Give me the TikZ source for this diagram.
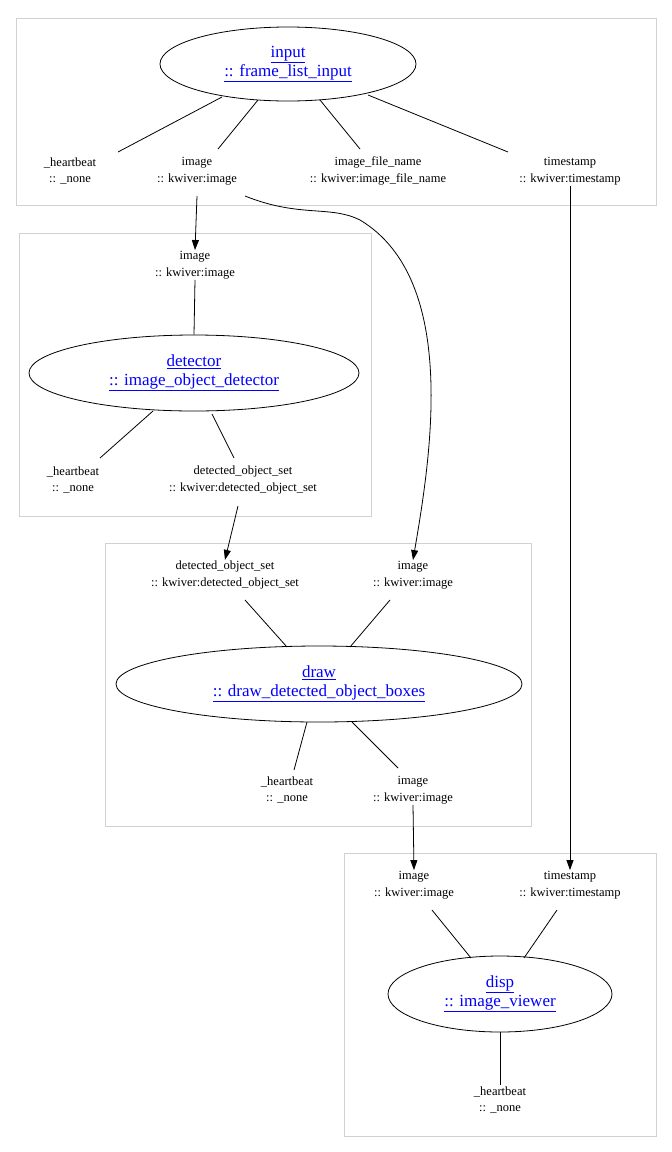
\documentclass[tikz,border=0pt]{standalone}
\usepackage{fontspec}
\setmainfont{Liberation Serif}
\usetikzlibrary{shapes.geometric,arrows.meta}
\begin{document}
\begin{tikzpicture}[x=1pt,y=-1pt,
  clus/.style={draw=black!18,line width=0.8pt},
  proc/.style={ellipse,draw,line width=0.8pt,inner sep=0pt,font=\fontsize{17}{19}\selectfont,text=blue,align=center},
  port/.style={align=center,font=\fontsize{12.5}{16.5}\selectfont,inner sep=1pt},
  ln/.style={line width=0.8pt},
  arr/.style={line width=0.8pt,-{Triangle[length=10pt,width=7pt]}}]
\useasboundingbox (0,0) rectangle (672,1152);
\draw[clus] (16,18) rectangle (656,205);
\draw[clus] (19,233) rectangle (371,516);
\draw[clus] (105,543) rectangle (531,826);
\draw[clus] (344,853) rectangle (656,1136);

\node[proc,minimum width=256,minimum height=74] (input) at (288,64) {\underline{input}\\\underline{:: frame\_list\_input}};
\node[proc,minimum width=330,minimum height=76] (det) at (194,373) {\underline{detector}\\\underline{:: image\_object\_detector}};
\node[proc,minimum width=406,minimum height=76] (draw) at (319,684) {\underline{draw}\\\underline{:: draw\_detected\_object\_boxes}};
\node[proc,minimum width=224,minimum height=76] (disp) at (500,994) {\underline{disp}\\\underline{:: image\_viewer}};

\node[port] (ihb) at (70,171) {\_heartbeat\\:: \_none};
\node[port] (iim) at (197,171) {image\\:: kwiver:image};
\node[port] (ifn) at (378,171) {image\_file\_name\\:: kwiver:image\_file\_name};
\node[port] (its) at (570,171) {timestamp\\:: kwiver:timestamp};

\node[port] (dim) at (195,265) {image\\:: kwiver:image};
\node[port] (dhb) at (73,480) {\_heartbeat\\:: \_none};
\node[port] (ddos) at (243,480) {detected\_object\_set\\:: kwiver:detected\_object\_set};

\node[port] (wdos) at (225,575) {detected\_object\_set\\:: kwiver:detected\_object\_set};
\node[port] (wim) at (413,575) {image\\:: kwiver:image};
\node[port] (whb) at (287,790) {\_heartbeat\\:: \_none};
\node[port] (wout) at (413,790) {image\\:: kwiver:image};

\node[port] (vim) at (414,885) {image\\:: kwiver:image};
\node[port] (vts) at (570,885) {timestamp\\:: kwiver:timestamp};
\node[port] (vhb) at (500,1100) {\_heartbeat\\:: \_none};

\coordinate (a1) at (222,97); \coordinate (a2) at (258,100);
\coordinate (a3) at (320,100); \coordinate (a4) at (368,95);
\draw[ln] (a1) -- (118,152); \draw[ln] (a2) -- (218,149);
\draw[ln] (a3) -- (360,149); \draw[ln] (a4) -- (508,152);

\draw[ln] (dim.south) -- (det.north);
\draw[ln] (153,411) -- (100,458);
\draw[ln] (212,414) -- (234,458);

\draw[ln] (245,600) -- (287,647);
\draw[ln] (390,600) -- (350,647);
\draw[ln] (307,722) -- (294,770);
\draw[ln] (352,722) -- (398,768);

\draw[ln] (432,910) -- (471,958);
\draw[ln] (557,910) -- (524,958);
\draw[ln] (disp.south) -- (vhb.north);

\draw[arr] (197,196) -- (dim.north);
\draw[arr] (245,196) .. controls (300,218) and (330,205) .. (360,220)
  .. controls (460,280) and (430,460) .. (wim.north);
\draw[arr] (238,506) -- (wdos.north);
\draw[arr] (wout.south) -- (vim.north);
\draw[arr] (its.south) -- (vts.north);
\end{tikzpicture}
\end{document}
